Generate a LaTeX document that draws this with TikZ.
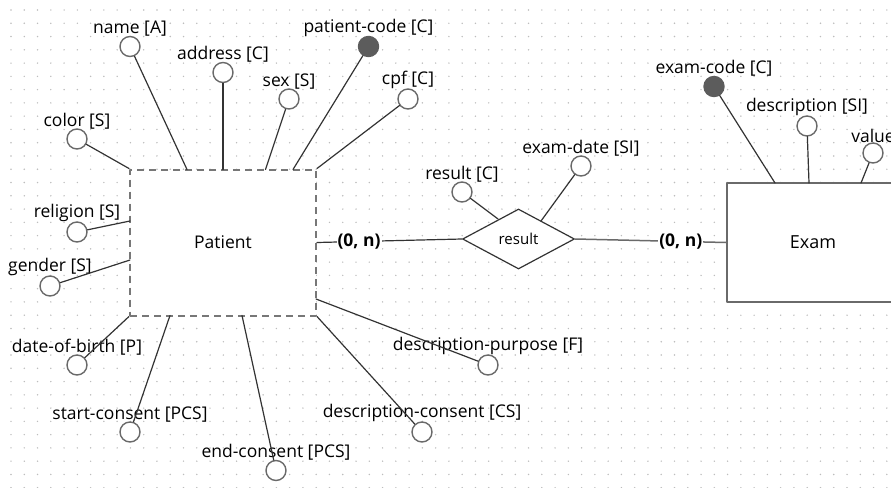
\documentclass[tikz,border=0pt]{standalone}
\usepackage{fontspec}
\setmainfont{Open Sans}
\usetikzlibrary{shapes.geometric}
\definecolor{lin}{HTML}{333333}
\definecolor{bord}{HTML}{6A6A6A}
\definecolor{dash}{HTML}{777777}
\definecolor{keyc}{HTML}{5C5C5C}
\definecolor{dotc}{HTML}{BDBDBD}
\begin{document}
\begin{tikzpicture}[x=1pt,y=-1pt,line join=round,line cap=round,font=\fontsize{17.5}{21}\selectfont,
		attr/.style={circle,draw=bord,line width=1.4pt,fill=white,minimum size=20,inner sep=0pt},
		keyattr/.style={attr,draw=keyc,fill=keyc},
		every label/.style={inner sep=0pt},label distance=-1pt,
		conn/.style={draw=lin,line width=1.2pt},
		rel/.style={draw=bord,line width=1.5pt},
		card/.style={fill=white,inner sep=1pt,font=\fontsize{17.5}{21}\selectfont\bfseries}]
	\useasboundingbox (0,0) rectangle (891,487);
	\clip (0,0) rectangle (891,487);
	% dotted grid
	\foreach \i in {0,...,67}
		\foreach \j in {0,...,36}
			\fill[dotc] (11+\i*13.27,10+\j*13.27) circle (.8);
	% entities and relationship
	\node[draw=dash,fill=white,line width=2pt,line cap=butt,dash pattern=on 7pt off 5pt,minimum width=186,minimum height=146,inner sep=0pt] (patient) at (223,242.5) {Patient};
	\node[draw=bord,fill=white,line width=2pt,minimum width=172,minimum height=119,font=\fontsize{18}{22}\selectfont] (exam) at (813,242.5) {Exam};
	\node[diamond,draw=lin,fill=white,line width=1.2pt,minimum width=112,minimum height=60,aspect=1.87,inner sep=0pt,font=\fontsize{15}{18}\selectfont] (result) at (518.5,239) {result};
	% attributes of Patient
	\node[attr,label={above:{name [A]}}] (name) at (130,46.5) {};
	\node[attr,label={above:{address [C]}}] (address) at (223,72.5) {};
	\node[attr,label={above:{sex [S]}}] (sex) at (289,99) {};
	\node[keyattr,label={above:{patient-code [C]}}] (pcode) at (368.5,46.5) {};
	\node[attr,label={above:{cpf [C]}}] (cpf) at (408,99) {};
	\node[attr,label={above:{color [S]}}] (color) at (77,139) {};
	\node[attr,label={above:{religion [S]}}] (religion) at (77,232) {};
	\node[attr,label={above:{gender [S]}}] (gender) at (50,286) {};
	\node[attr,label={above:{date-of-birth [P]}}] (dob) at (77,365) {};
	\node[attr,label={above:{start-consent [PCS]}}] (sconsent) at (130,432) {};
	\node[attr,label={above:{end-consent [PCS]}}] (econsent) at (276,470.5) {};
	\node[attr,label={above:{description-consent [CS]}}] (dconsent) at (422,432) {};
	\node[attr,label={above:{description-purpose [F]}}] (dpurpose) at (488,365) {};
	% attributes of result and Exam
	\node[attr,label={above:{result [C]}}] (rescode) at (462,192) {};
	\node[attr,label={above:{exam-date [SI]}}] (edate) at (581,166) {};
	\node[keyattr,label={above:{exam-code [C]}}] (ecode) at (714,86.5) {};
	\node[attr,label={above:{description [SI]}}] (edesc) at (807,126) {};
	\node[attr,label={above:value}] (evalue) at (873,153) {};
	% ends on the borders
	\coordinate (pName) at (187,169.5);
	\coordinate (pAddress) at (223,169.5);
	\coordinate (pSex) at (265.5,169.5);
	\coordinate (pCode) at (293,169.5);
	\coordinate (pReligion) at (130,221);
	\coordinate (pGender) at (130,260);
	\coordinate (pStart) at (170,315.5);
	\coordinate (pEnd) at (242,315.5);
	\coordinate (pPurpose) at (316,299);
	\coordinate (rRes) at (498,219);
	\coordinate (rDate) at (541,221);
	\coordinate (eCode) at (775,183);
	\coordinate (eDesc) at (809,183);
	\coordinate (eValue) at (861,183);
	\draw[conn] (name)--(pName);
	\draw[conn] (address)--(pAddress);
	\draw[conn] (sex)--(pSex);
	\draw[conn] (pcode)--(pCode);
	\draw[conn] (cpf)--(patient.north east);
	\draw[conn] (color)--(patient.north west);
	\draw[conn] (religion)--(pReligion);
	\draw[conn] (gender)--(pGender);
	\draw[conn] (dob)--(patient.south west);
	\draw[conn] (sconsent)--(pStart);
	\draw[conn] (econsent)--(pEnd);
	\draw[conn] (dconsent)--(patient.south east);
	\draw[conn] (dpurpose)--(pPurpose);
	\draw[conn] (rescode)--(rRes);
	\draw[conn] (edate)--(rDate);
	\draw[conn] (ecode)--(eCode);
	\draw[conn] (edesc)--(eDesc);
	\draw[conn] (evalue)--(eValue);
	% cardinalities
	\draw[conn] (patient.east)--node[card,pos=.29]{(0, n)}(result.west);
	\draw[rel] (result.east)--node[card,pos=.7]{(0, n)}(exam.west);
\end{tikzpicture}
\end{document}
